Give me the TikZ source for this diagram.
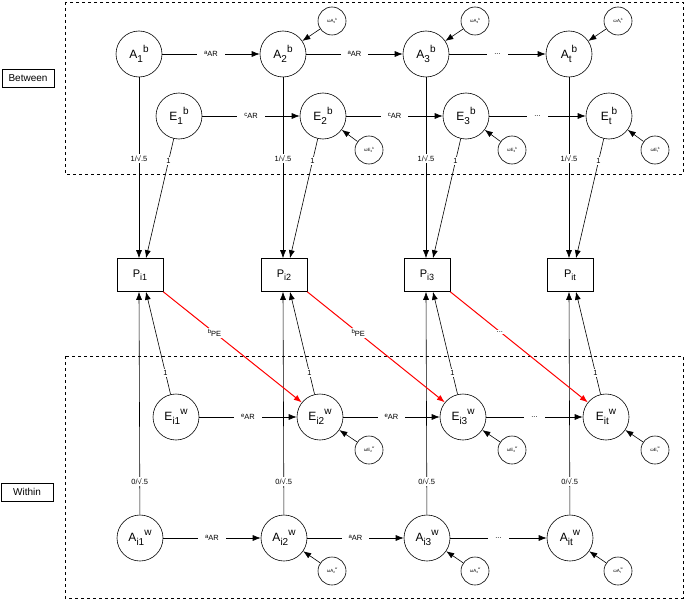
\documentclass[tikz,border=0pt]{standalone}
\usepackage{fontspec}
\setmainfont{Liberation Sans}
\usetikzlibrary{arrows.meta,positioning}
\newcommand{\lvar}[3]{#1\raisebox{-0.3em}{\fontsize{10}{12}\selectfont #2}\raisebox{0.5em}{\fontsize{10}{12}\selectfont #3}}
\newcommand{\tinyvar}[3]{#1\raisebox{-0.3em}{\fontsize{3}{4}\selectfont #2}\raisebox{0.5em}{\fontsize{3}{4}\selectfont #3}}
\newcommand{\parm}[2]{\raisebox{0.1em}{\fontsize{6}{7}\selectfont #1}\raisebox{-0.25em}{#2}}
\tikzset {
	latent/.style={circle, draw, minimum size=46pt, inner sep=0pt, font=\fontsize{12}{14}\selectfont},
	resid/.style={circle, draw, minimum size=28pt, inner sep=0pt, font=\fontsize{4.5}{5}\selectfont},
	observed/.style={rectangle, draw, minimum width=46pt, minimum height=33pt, font=\fontsize{11}{13}\selectfont},
	group/.style={rectangle, draw, minimum width=52pt, minimum height=18pt, font=\fontsize{10}{12}\selectfont},
	coef/.style={fill=white, text=black, inner sep=1.5pt, font=\fontsize{7.5}{8}\selectfont},
	arcoef/.style={coef, inner xsep=7pt},
	reg/.style={-{Latex[length=8pt,width=6pt]}},
	cross/.style={reg, red, line width=1pt},
	panel/.style={dashed, line width=0.8pt}
}
\begin{document}
\begin{tikzpicture}[x=1pt, y=-1pt, line width=0.6pt]
	\useasboundingbox (0,0) rectangle (685,599);
	\draw[panel] (65,2) rectangle (683,174);
	\draw[panel] (65,356) rectangle (683,598);
	\node[group] (between) at (28,78) {Between};
	\node[group] (within) at (27,492) {Within};
	% one column per occasion
	\foreach \c/\x in {1/139, 2/283, 3/426, t/569} {
		\node[latent] (Ab\c) at (\x,54) {\lvar{A}{\c}{b}};
		\node[latent] (Eb\c) at (\x+40,116) {\lvar{E}{\c}{b}};
		\node[observed] (P\c) at (\x+1,275) {P\raisebox{-0.3em}{\fontsize{9}{10}\selectfont i\c}};
		\node[latent] (Ew\c) at (\x+37,417) {\lvar{E}{i\c}{w}};
		\node[latent] (Aw\c) at (\x+1,538) {\lvar{A}{i\c}{w}};
		\draw[reg] (Ab\c) -- node[coef, pos=0.45] {1/√.5} ([xshift=-1pt]P\c.north);
		\draw[reg] (Eb\c) -- node[coef, pos=0.19] {1} ([xshift=6pt]P\c.north);
		\draw[reg] (Aw\c) -- node[coef, pos=0.15] {0/√.5} ([xshift=-1pt]P\c.south);
		\draw[reg] (Ew\c) -- node[coef, pos=0.21] {1} ([xshift=6pt]P\c.south);
	}
	% residuals
	\foreach \c/\x in {2/283, 3/426, t/569} {
		\node[resid] (uA\c) at (\x+49,21) {\tinyvar{ωA}{\c}{b}};
		\node[resid] (uE\c) at (\x+86,150) {\tinyvar{ωE}{\c}{b}};
		\node[resid] (vE\c) at (\x+86,450) {\tinyvar{ωE}{\c}{w}};
		\node[resid] (vA\c) at (\x+49,571) {\tinyvar{ωA}{\c}{w}};
		\draw[reg] (uA\c) -- (Ab\c);
		\draw[reg] (uE\c) -- (Eb\c);
		\draw[reg] (vE\c) -- (Ew\c);
		\draw[reg] (vA\c) -- (Aw\c);
	}
	% autoregressive paths
	\foreach \i/\j in {1/2, 2/3} {
		\draw[reg] (Ab\i) -- node[arcoef] {\parm{a}{AR}} (Ab\j);
		\draw[reg] (Eb\i) -- node[arcoef] {\parm{c}{AR}} (Eb\j);
		\draw[reg] (Ew\i) -- node[arcoef] {\parm{e}{AR}} (Ew\j);
		\draw[reg] (Aw\i) -- node[arcoef] {\parm{a}{AR}} (Aw\j);
	}
	\draw[reg] (Ab3) -- node[arcoef] {...} (Abt);
	\draw[reg] (Eb3) -- node[arcoef] {...} (Ebt);
	\draw[reg] (Ew3) -- node[arcoef] {...} (Ewt);
	\draw[reg] (Aw3) -- node[arcoef] {...} (Awt);
	% cross-lagged paths
	\draw[cross] (P1.south east) -- node[arcoef, pos=0.37] {\parm{b}{PE}} (Ew2);
	\draw[cross] (P2.south east) -- node[arcoef, pos=0.37] {\parm{b}{PE}} (Ew3);
	\draw[cross] (P3.south east) -- node[arcoef, pos=0.36] {...} (Ewt);
\end{tikzpicture}
\end{document}
